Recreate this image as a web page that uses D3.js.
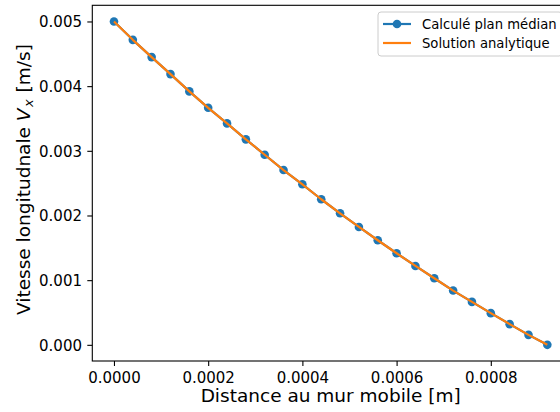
<!DOCTYPE html>
<html>
<head>
<meta charset="utf-8">
<script src="https://cdn.jsdelivr.net/npm/d3@7"></script>
<style>
  html, body { margin: 0; padding: 0; background: #fff; }
  svg { display: block; font-family: "DejaVu Sans", sans-serif; }
  svg text { font-family: "DejaVu Sans", sans-serif; }
</style>
</head>
<body>
<svg id="chart" width="560" height="412"></svg>
<script>
// ---- data ----
const distance = [0.00000, 0.00004, 0.00008, 0.00012, 0.00016, 0.00020, 0.00024, 0.00028,
                  0.00032, 0.00036, 0.00040, 0.00044, 0.00048, 0.00052, 0.00056, 0.00060,
                  0.00064, 0.00068, 0.00072, 0.00076, 0.00080, 0.00084, 0.00088, 0.00092];
const vComputed = [0.005000, 0.004716, 0.004449, 0.004186, 0.003919, 0.003665, 0.003424, 0.003177,
                   0.002939, 0.002703, 0.002482, 0.002251, 0.002034, 0.001823, 0.001617, 0.001416,
                   0.001220, 0.001030, 0.000839, 0.000664, 0.000490, 0.000320, 0.000154, 0.000000];
const vAnalytic = [0.005000, 0.004716, 0.004449, 0.004186, 0.003919, 0.003665, 0.003424, 0.003177,
                   0.002939, 0.002703, 0.002482, 0.002251, 0.002034, 0.001823, 0.001617, 0.001416,
                   0.001220, 0.001030, 0.000839, 0.000664, 0.000490, 0.000320, 0.000154, 0.000000];
const xTicks = [0, 0.0002, 0.0004, 0.0006, 0.0008];
const yTicks = [0, 0.001, 0.002, 0.003, 0.004, 0.005];
const seriesNames = ["Calculé plan médian", "Solution analytique"];
const colors = ["#1f77b4", "#ff7f0e"];

// ---- layout ----
const FONT = "DejaVu Sans";
const svg = d3.select("#chart");
const L = 92.3, R = 569, T = 5.3, B = 361;
const x = d3.scaleLinear().domain([-0.000046, 0.000966]).range([L, R]);
const y = d3.scaleLinear().domain([-0.00025, 0.00525]).range([B, T]);

svg.append("defs").append("clipPath").attr("id", "plotclip")
  .append("rect").attr("x", L).attr("y", T).attr("width", R - L).attr("height", B - T);

const plot = svg.append("g").attr("clip-path", "url(#plotclip)");

const pts = distance.map((d, i) => ({x: d, c: vComputed[i], a: vAnalytic[i]}));

// computed series: line + markers
plot.append("path").datum(pts)
  .attr("fill", "none").attr("stroke", colors[0]).attr("stroke-width", 2.2)
  .attr("stroke-linejoin", "round")
  .attr("d", d3.line().x(d => x(d.x)).y(d => y(d.c)));
plot.selectAll("circle.m").data(pts).enter().append("circle")
  .attr("class", "m").attr("cx", d => x(d.x)).attr("cy", d => y(d.c))
  .attr("r", 4.3).attr("fill", colors[0]);

// analytic solution
plot.append("path").datum(pts)
  .attr("fill", "none").attr("stroke", colors[1]).attr("stroke-width", 2.2)
  .attr("stroke-linejoin", "round")
  .attr("d", d3.line().x(d => x(d.x)).y(d => y(d.a)));

// ---- axes ----
const xAxis = d3.axisBottom(x).tickValues(xTicks).tickFormat(d3.format(".4f"))
  .tickSize(5).tickSizeOuter(0).tickPadding(5);
const gx = svg.append("g").attr("transform", `translate(0,${B})`).call(xAxis)
  .attr("font-family", FONT).attr("font-size", 15);
gx.select(".domain").remove();
gx.selectAll(".tick line").attr("stroke", "#000").attr("stroke-width", 1.1);
gx.selectAll(".tick text").attr("font-size", 15).attr("font-family", FONT).attr("fill", "#000")
  .attr("dy", null).attr("y", 21.7);

const yAxis = d3.axisLeft(y).tickValues(yTicks).tickFormat(d3.format(".3f"))
  .tickSize(5).tickSizeOuter(0).tickPadding(5);
const gy = svg.append("g").attr("transform", `translate(${L},0)`).call(yAxis)
  .attr("font-family", FONT).attr("font-size", 15);
gy.select(".domain").remove();
gy.selectAll(".tick line").attr("stroke", "#000").attr("stroke-width", 1.1);
gy.selectAll(".tick text").attr("font-size", 15).attr("font-family", FONT).attr("fill", "#000")
  .attr("dy", null).attr("y", 5.4).attr("x", -10.3);

// spines
svg.append("rect").attr("x", L).attr("y", T).attr("width", R - L).attr("height", B - T)
  .attr("fill", "none").attr("stroke", "#000").attr("stroke-width", 1.1);

// axis labels
svg.append("text").attr("x", (L + R) / 2).attr("y", 402.3)
  .attr("text-anchor", "middle").attr("font-size", 18.5).attr("font-family", FONT).attr("fill", "#000")
  .text("Distance au mur mobile [m]");

const yl = svg.append("text")
  .attr("transform", `translate(29.5,179.5) rotate(-90)`)
  .attr("text-anchor", "middle").attr("font-size", 18.5).attr("font-family", FONT).attr("fill", "#000");
yl.append("tspan").text("Vitesse longitudnale ");
yl.append("tspan").attr("font-style", "italic").text("V");
yl.append("tspan").attr("font-style", "italic").attr("font-size", 13).attr("dx", 1.5).attr("dy", 3.5).text("x");
yl.append("tspan").attr("dy", -3.5).attr("dx", 1).text(" [m/s]");

// ---- legend ----
const lg = svg.append("g");
lg.append("rect").attr("x", 378).attr("y", 12).attr("width", 184).attr("height", 44)
  .attr("rx", 3).attr("fill", "#fff").attr("fill-opacity", 0.8)
  .attr("stroke", "#cccccc").attr("stroke-width", 1);
const rowsY = [24, 43];
seriesNames.forEach((name, i) => {
  lg.append("line").attr("x1", 383).attr("x2", 411).attr("y1", rowsY[i]).attr("y2", rowsY[i])
    .attr("stroke", colors[i]).attr("stroke-width", 2.2);
  if (i === 0) lg.append("circle").attr("cx", 397).attr("cy", rowsY[i]).attr("r", 4.3).attr("fill", colors[i]);
  lg.append("text").attr("x", 422).attr("y", rowsY[i] + 4.8)
    .attr("font-size", 13.2).attr("font-family", FONT).attr("fill", "#000").text(name);
});
</script>
</body>
</html>
